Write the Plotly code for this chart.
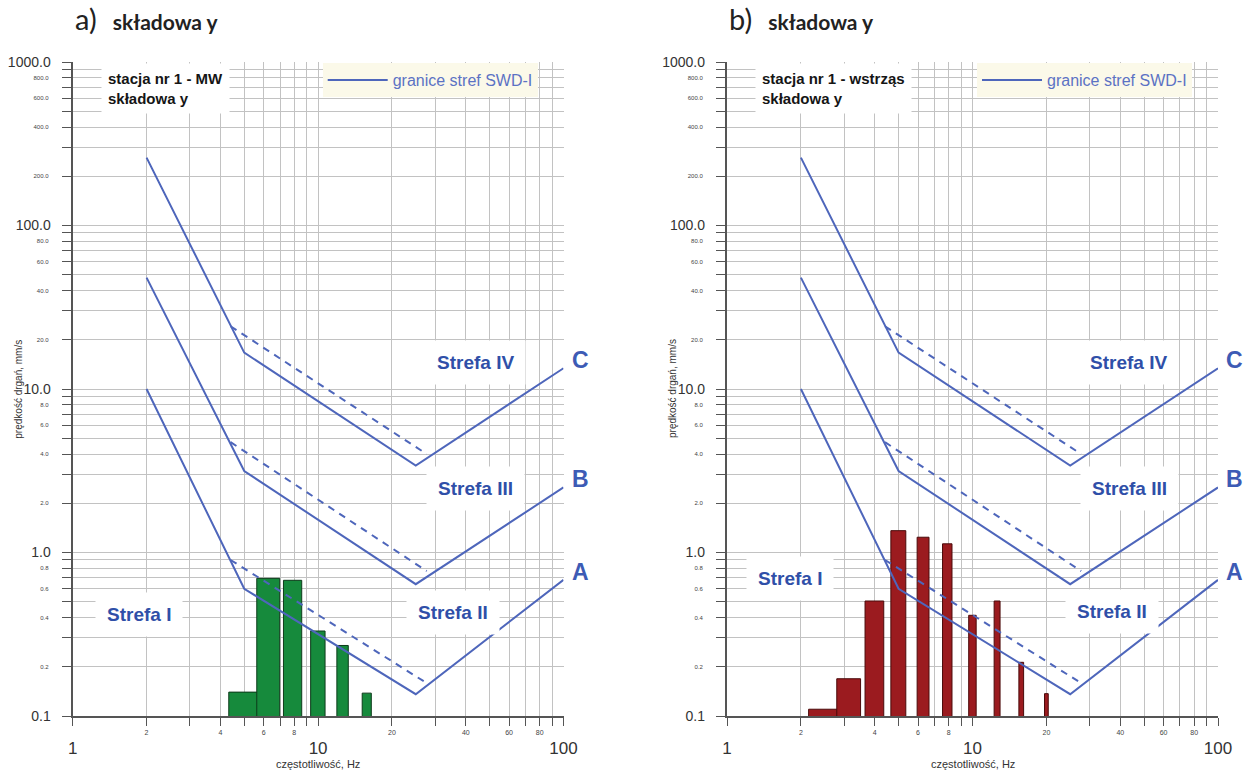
import math
import plotly.graph_objects as go

# ---------------- data ----------------
freq_zone = [2, 5, 25, 100]                 # Hz, vertices of zone boundary lines
zone_A = [10.0, 0.6, 0.136, 0.68]           # mm/s
zone_B = [48.0, 3.15, 0.64, 2.5]
zone_C = [260.0, 16.7, 3.4, 13.4]
freq_dash = [4.4, 27.7]                     # dashed auxiliary lines
dash_A = [0.9, 0.159]
dash_B = [4.73, 0.77]
dash_C = [24.2, 4.0]

freq_mw = [5.0, 6.3, 7.9, 10.0, 12.6, 15.8]
vel_mw = [0.14, 0.695, 0.676, 0.331, 0.27, 0.138]
freq_eq = [2.5, 3.15, 4.0, 5.0, 6.3, 7.9, 10.0, 12.6, 15.8, 20.0]
vel_eq = [0.110, 0.169, 0.505, 1.36, 1.24, 1.13, 0.413, 0.505, 0.213, 0.137]

panel_letters = ["a)", "b)"]
panel_title = "składowa y"
station_labels = ["stacja nr 1 - MW", "stacja nr 1 - wstrząs"]
station_sub = "składowa y"
legend_name = "granice stref SWD-I"
zone_names = ["Strefa I", "Strefa II", "Strefa III", "Strefa IV"]
line_names = ["A", "B", "C"]
x_title = "częstotliwość, Hz"
y_title = "prędkość drgań, mm/s"

# ticks
y_tickvals = [round(m * 10 ** e, 6) for e in range(-1, 3) for m in range(1, 10)] + [1000]
y_minor_text = [f"{v:.1f}" if (round(v / 10 ** math.floor(math.log10(v) + 1e-9)) in (2, 4, 6, 8)) else "" for v in y_tickvals]
y_major_vals = [0.1, 1, 10, 100, 1000]
y_major_text = [f"{v:.1f}" for v in y_major_vals]
x_tickvals = [round(m * 10 ** e, 6) for e in range(0, 2) for m in range(1, 10)] + [100]
x_minor_text = [f"{v:g}" if (round(v / 10 ** math.floor(math.log10(v) + 1e-9)) in (2, 4, 6, 8)) else "" for v in x_tickvals]
x_major_vals = [1, 10, 100]
x_major_text = ["1", "10", "100"]

# ---------------- style ----------------
W, H = 1250, 774
BLUE = "#4e66bb"
TXT_BLUE = "#2f4fa8"
GRID = "#c2c2c2"
AXIS = "#555555"
FONT = "Liberation Sans, Arial, sans-serif"

def px_x(p):
    return p / W

def px_y(p):
    return 1 - p / H

y_dom = [px_y(716), px_y(62)]
panels = [
    dict(x="x", y="y", xo="x3", yo="y3", dom=[px_x(72.7), px_x(563.5)], freq=freq_mw, vel=vel_mw,
         color="#168a3c", edge="#0d3a1a", width=1.35, legend="legend"),
    dict(x="x2", y="y2", xo="x4", yo="y4", dom=[px_x(727), px_x(1218)], freq=freq_eq, vel=vel_eq,
         color="#9b1b1f", edge="#4a0a0a", width=0.7, legend="legend2"),
]

fig = go.Figure()
for i, p in enumerate(panels):
    fig.add_trace(go.Bar(x=p["freq"], y=p["vel"], width=p["width"],
                         marker=dict(color=p["color"], line=dict(color=p["edge"], width=1)),
                         xaxis=p["x"], yaxis=p["y"], showlegend=False))
    for k, vals in enumerate([zone_A, zone_B, zone_C]):
        fig.add_trace(go.Scatter(x=freq_zone, y=vals, mode="lines", line=dict(color=BLUE, width=2),
                                 name=legend_name, showlegend=(k == 0), legend=p["legend"],
                                 xaxis=p["x"], yaxis=p["y"]))
    for vals in [dash_A, dash_B, dash_C]:
        fig.add_trace(go.Scatter(x=freq_dash, y=vals, mode="lines",
                                 line=dict(color=BLUE, width=2, dash="7px,6px"),
                                 showlegend=False, xaxis=p["x"], yaxis=p["y"]))
    # carrier trace so the overlay axes (major tick labels) are drawn
    fig.add_trace(go.Scatter(x=x_major_vals, y=y_major_vals[1:4], mode="markers", marker=dict(opacity=0),
                             showlegend=False, hoverinfo="skip", xaxis=p["xo"], yaxis=p["yo"]))

layout = dict(width=W, height=H, margin=dict(l=0, r=0, t=0, b=0, autoexpand=False),
              paper_bgcolor="white", plot_bgcolor="white", barmode="overlay",
              font=dict(family=FONT, color="#333"))

annotations = []
zone_pos = [
    [(1.87, 0.415), (35.4, 0.431), (43.6, 2.45), (43.6, 14.6)],
    [(1.80, 0.69), (37.0, 0.436), (43.6, 2.45), (43.3, 14.6)],
]
for i, p in enumerate(panels):
    n = "" if i == 0 else "2"
    no = "3" if i == 0 else "4"
    layout["xaxis" + n] = dict(type="log", range=[0, 2], domain=p["dom"], anchor=p["y"], automargin=False,
                               tickvals=x_tickvals, ticktext=x_minor_text, ticks="outside", ticklen=8,
                               tickcolor=AXIS, showline=True, linecolor=AXIS, linewidth=2,
                               showgrid=True, gridcolor=GRID, gridwidth=1, zeroline=False,
                               tickfont=dict(size=7, color="#444"), ticklabelstandoff=1)
    layout["yaxis" + n] = dict(type="log", range=[-1, 3], domain=y_dom, anchor=p["x"], automargin=False,
                               tickvals=y_tickvals, ticktext=y_minor_text, ticks="outside", ticklen=9,
                               tickcolor=AXIS, showline=True, linecolor=AXIS, linewidth=2,
                               showgrid=True, gridcolor=GRID, gridwidth=1, zeroline=False,
                               tickfont=dict(size=6, color="#444"), ticklabelstandoff=12)
    layout["xaxis" + no] = dict(type="log", range=[0, 2], overlaying=p["x"], anchor=p["yo"], side="bottom",
                                automargin=False,
                                tickvals=x_major_vals, ticktext=x_major_text, ticks="", showline=False,
                                showgrid=False, zeroline=False, tickfont=dict(size=17, color="#333"),
                                ticklabelstandoff=20)
    layout["yaxis" + no] = dict(type="log", range=[-1, 3], overlaying=p["y"], anchor=p["xo"], side="left",
                                domain=y_dom, automargin=False,
                                tickvals=y_major_vals, ticktext=y_major_text, ticks="", showline=False,
                                showgrid=False, zeroline=False, tickfont=dict(size=14, color="#333"),
                                ticklabelstandoff=21)
    x0, x1 = p["dom"][0] * W, p["dom"][1] * W
    # panel title
    annotations.append(dict(xref="paper", yref="paper", x=px_x(x0), y=px_y(19), xanchor="left", yanchor="middle",
                            text=f'<span style="font-size:29px">{panel_letters[i]}</span>   <b>{panel_title}</b>',
                            showarrow=False, font=dict(family="Lato, Open Sans, sans-serif", size=21, color="#222")))
    # station box
    annotations.append(dict(xref="paper", yref="paper", x=px_x(x0 + 28), y=px_y(63), xanchor="left", yanchor="top",
                            text=f"<b>{station_labels[i]}</b><br><b>{station_sub}</b>", align="left",
                            showarrow=False, bgcolor="white", borderpad=6,
                            font=dict(family=FONT, size=15, color="#151515")))
    # axis titles
    annotations.append(dict(xref="paper", yref="paper", x=px_x(x0 - 55), y=(y_dom[0] + y_dom[1]) / 2,
                            textangle=-90, text=y_title, showarrow=False, xanchor="center", yanchor="middle",
                            font=dict(family=FONT, size=10, color="#333")))
    annotations.append(dict(xref="paper", yref="paper", x=(x0 + x1) / 2 / W, y=px_y(764),
                            text=x_title, showarrow=False, xanchor="center", yanchor="middle",
                            font=dict(family=FONT, size=11, color="#333")))
    # zone labels
    for name, (f, v) in zip(zone_names, zone_pos[i]):
        annotations.append(dict(xref=p["x"], yref=p["y"], x=math.log10(f), y=math.log10(v), text=f"<b>{name}</b>",
                                showarrow=False, bgcolor="white", borderpad=11,
                                font=dict(family=FONT, size=19, color=TXT_BLUE)))
    # line labels
    for name, vals in zip(line_names, [zone_A, zone_B, zone_C]):
        annotations.append(dict(xref=p["x"], yref=p["y"], x=math.log10(freq_zone[-1]), y=math.log10(vals[-1]),
                                text=f"<b>{name}</b>", showarrow=False, xanchor="left", xshift=6, yshift=8,
                                font=dict(family=FONT, size=23, color="#3d5bb5")))
    layout[p["legend"]] = dict(x=px_x(x0 + 250), y=px_y(63), xanchor="left", yanchor="top",
                               bgcolor="#fbf9e9", borderwidth=0, itemwidth=60,
                               font=dict(family=FONT, size=16, color="#5b72c4"))

layout["annotations"] = annotations
fig.update_layout(**layout)
fig.write_html("out.html")
